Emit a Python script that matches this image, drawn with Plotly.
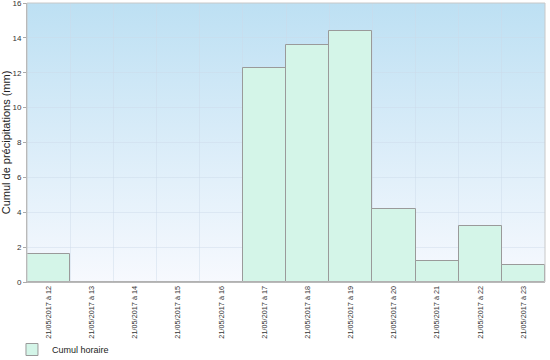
import base64
import plotly.graph_objects as go

categories = ["21/05/2017 à 12", "21/05/2017 à 13", "21/05/2017 à 14", "21/05/2017 à 15",
              "21/05/2017 à 16", "21/05/2017 à 17", "21/05/2017 à 18", "21/05/2017 à 19",
              "21/05/2017 à 20", "21/05/2017 à 21", "21/05/2017 à 22", "21/05/2017 à 23"]
cumul_horaire = [1.6, 0, 0, 0, 0, 12.3, 13.6, 14.4, 4.2, 1.2, 3.2, 1.0]
y_ticks = [0, 2, 4, 6, 8, 10, 12, 14, 16]

svg = ('<svg xmlns="http://www.w3.org/2000/svg" width="100" height="100" preserveAspectRatio="none">'
       '<defs><linearGradient id="g" x1="0" y1="0" x2="0" y2="1">'
       '<stop offset="0" stop-color="#bde0f3"/><stop offset="1" stop-color="#f7f9fe"/>'
       '</linearGradient></defs><rect width="100" height="100" fill="url(#g)"/></svg>')
src = "data:image/svg+xml;base64," + base64.b64encode(svg.encode()).decode()

fig = go.Figure()
fig.add_trace(go.Bar(
    x=categories, y=cumul_horaire, name="Cumul horaire",
    marker=dict(color="#d4f5e8", line=dict(color="#9a9a9a", width=1)),
    showlegend=True,
))

fig.update_layout(
    width=550, height=360,
    margin=dict(l=27, r=5, t=3, b=78, autoexpand=False),
    paper_bgcolor="white",
    plot_bgcolor="rgba(0,0,0,0)",
    bargap=0,
    font=dict(family="Liberation Sans, Arial, sans-serif", color="#333"),
    images=[dict(source=src, xref="paper", yref="paper", x=0, y=1, sizex=1, sizey=1,
                 sizing="stretch", layer="below", xanchor="left", yanchor="top")],
    xaxis=dict(
        type="category", tickangle=-90, tickfont=dict(size=7.3, color="#333"),
        showgrid=True, gridcolor="rgba(205,218,232,0.45)", tickson="boundaries",
        ticks="", showline=True, linecolor="#aaaaaa", linewidth=1, mirror=False,
        range=[-0.5, 11.5], automargin=False,
    ),
    yaxis=dict(
        range=[0, 16], tickvals=y_ticks, tickfont=dict(size=8, color="#333"),
        showgrid=True, gridcolor="rgba(205,218,232,0.45)", zeroline=False,
        showline=True, linecolor="#aaaaaa", linewidth=1, ticklabeloverflow="allow",
        ticks="outside", ticklen=3, tickcolor="#aaaaaa", automargin=False,
        title=dict(text="Cumul de précipitations (mm)", font=dict(size=11, color="#222"), standoff=4),
    ),
    legend=dict(orientation="h", x=-0.029, y=-0.19, xanchor="left", yanchor="top",
                font=dict(size=9, color="#222"), bgcolor="rgba(0,0,0,0)"),
    shapes=[dict(type="rect", xref="paper", yref="paper", x0=0, x1=1, y0=0, y1=1,
                 line=dict(color="#c8c8c8", width=1), layer="above")],
)

fig.write_html("out.html")
